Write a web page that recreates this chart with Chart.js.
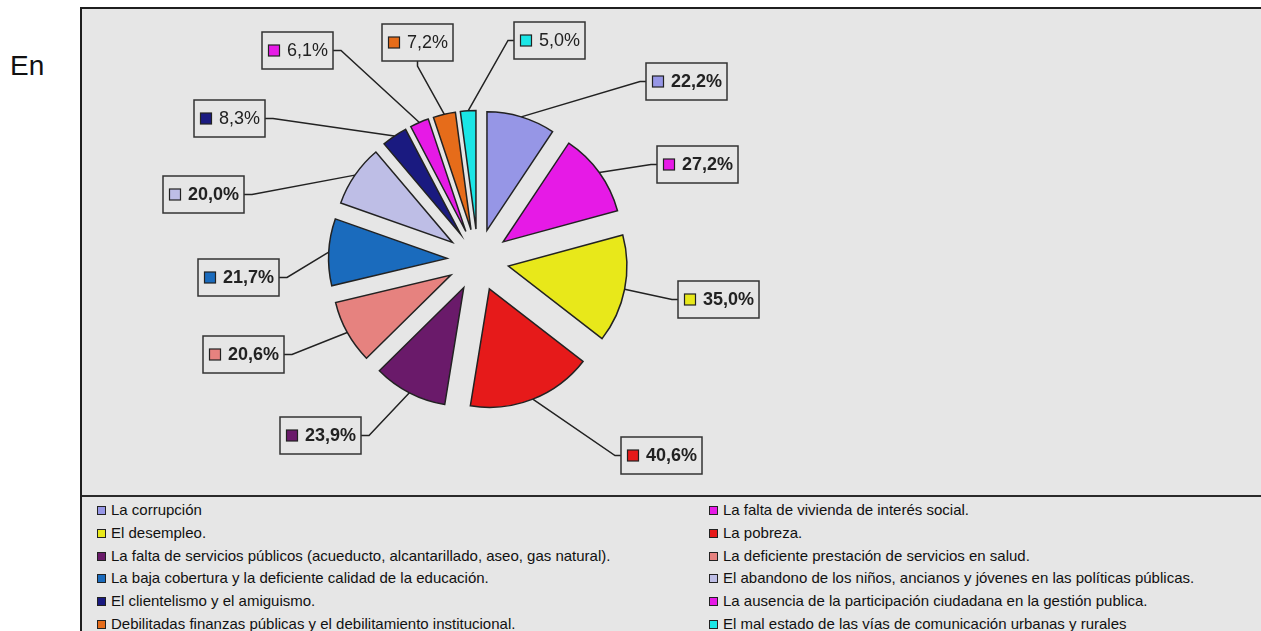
<!DOCTYPE html>
<html>
<head>
<meta charset="utf-8">
<script src="https://cdn.jsdelivr.net/npm/chart.js@4"></script>
<style>
  body { margin: 0; background: #fff; font-family: "Liberation Sans", Arial, sans-serif; }
  #lead { position: absolute; left: 10px; top: 50px; font-size: 28px; color: #111; }
  #box {
    position: absolute; left: 80px; top: 7px; width: 1240px; height: 700px;
    box-sizing: border-box; border: 2px solid #1e1e1e; background: #e6e6e6;
  }
  #pie { display: block; }
  #legend {
    border-top: 2px solid #2a2a2a;
    display: grid; grid-template-columns: 612px auto;
    padding: 2px 0 0 15px;
    font-size: 15px; color: #111; line-height: 22.8px;
  }
  #legend span.sw {
    display: inline-block; width: 7px; height: 7px; border: 1px solid #222;
    margin-right: 5px; vertical-align: 0px;
  }
</style>
</head>
<body>
<div id="lead">En</div>
<div id="box">
  <canvas id="pie" width="1179" height="486"></canvas>
  <div id="legend"></div>
</div>
<script>
// --- DATOS ---
const categories = [
  'La corrupción',
  'La falta de vivienda de interés social.',
  'El desempleo.',
  'La pobreza.',
  'La falta de servicios públicos (acueducto, alcantarillado, aseo, gas natural).',
  'La deficiente prestación de servicios en salud.',
  'La baja cobertura y la deficiente calidad de la educación.',
  'El abandono de los niños, ancianos y jóvenes en las políticas públicas.',
  'El clientelismo y el amiguismo.',
  'La ausencia de la participación ciudadana en la gestión publica.',
  'Debilitadas finanzas públicas y el debilitamiento institucional.',
  'El mal estado de las vías de comunicación urbanas y rurales'
];
const values = [22.2, 27.2, 35.0, 40.6, 23.9, 20.6, 21.7, 20.0, 8.3, 6.1, 7.2, 5.0];
const colors = ['#9696e6', '#e61ae6', '#e8e81a', '#e61a1a', '#6a1a6a', '#e6827f',
                '#1a6bbd', '#bebee6', '#1a1a80', '#e61ae6', '#e66c1a', '#1ae6e6'];

// posicion de las etiquetas (esquina sup. izq. relativa al centro de la torta)
const labelSpots = [[168, -197], [179, -114], [200, 21], [143, 177], [-198, 157], [-275, 76],
                    [-280, -1], [-315, -84], [-284, -160], [-216, -228], [-96, -236], [36, -238]];

const EXPLODE = 31;
const INK = '#222';

// dibuja las porciones separadas del centro
const explodePlugin = {
  id: 'explode',
  beforeDatasetsDraw(chart) {
    const ctx = chart.ctx;
    chart.getDatasetMeta(0).data.forEach(arc => {
      const mid = (arc.startAngle + arc.endAngle) / 2;
      ctx.save();
      ctx.translate(Math.cos(mid) * EXPLODE, Math.sin(mid) * EXPLODE);
      arc.draw(ctx);
      ctx.restore();
    });
    return false;
  }
};

// etiquetas con caja y linea guia
const calloutPlugin = {
  id: 'callouts',
  afterDraw(chart) {
    const ctx = chart.ctx;
    const data = chart.data.datasets[0].data;
    chart.getDatasetMeta(0).data.forEach((arc, i) => {
      const mid = (arc.startAngle + arc.endAngle) / 2;
      const r = EXPLODE + arc.outerRadius;
      const ax = arc.x + Math.cos(mid) * r;
      const ay = arc.y + Math.sin(mid) * r;

      const v = data[i];
      const bold = v >= 10;
      const text = v.toFixed(1).replace('.', ',') + '%';
      ctx.save();
      ctx.font = (bold ? 'bold ' : '') + '18px "Liberation Sans", Arial, sans-serif';
      const tw = ctx.measureText(text).width;
      const bw = Math.round(6 + 11 + 8 + tw + 5);
      const bh = 37;
      const bx = arc.x + labelSpots[i][0];
      const by = arc.y + labelSpots[i][1];

      // linea guia
      let sx, sy, ex, ey;
      if (ax < bx) { ex = bx; ey = by + bh / 2; sx = bx - 6; sy = ey; }
      else if (ax > bx + bw) { ex = bx + bw; ey = by + bh / 2; sx = ex + 8; sy = ey; }
      else { ex = bx + bw / 2; ey = by + bh; sx = ex; sy = ey + 5; }
      ctx.strokeStyle = INK;
      ctx.lineWidth = 1.5;
      ctx.beginPath();
      ctx.moveTo(ax, ay);
      ctx.lineTo(sx, sy);
      ctx.lineTo(ex, ey);
      ctx.stroke();

      // caja
      ctx.fillStyle = '#e6e6e6';
      ctx.fillRect(bx, by, bw, bh);
      ctx.strokeStyle = '#333';
      ctx.strokeRect(bx, by, bw, bh);

      // marcador
      ctx.fillStyle = colors[i];
      ctx.fillRect(bx + 6.5, by + bh / 2 - 5.5, 11, 11);
      ctx.lineWidth = 1.2;
      ctx.strokeStyle = INK;
      ctx.strokeRect(bx + 6.5, by + bh / 2 - 5.5, 11, 11);

      ctx.fillStyle = INK;
      ctx.textBaseline = 'middle';
      ctx.fillText(text, bx + 25, by + bh / 2 + 1);
      ctx.restore();
    });
  }
};

const pieChart = new Chart(document.getElementById('pie'), {
  type: 'pie',
  data: {
    labels: categories,
    datasets: [{
      data: values,
      backgroundColor: colors,
      borderColor: INK,
      borderWidth: 1.5,
      borderJoinStyle: 'miter'
    }]
  },
  options: {
    responsive: false,
    animation: false,
    events: [],
    radius: 118.5,
    layout: { padding: { left: 0, right: 387, top: 16, bottom: 0 } },
    plugins: { legend: { display: false }, tooltip: { enabled: false } }
  },
  plugins: [explodePlugin, calloutPlugin]
});

// leyenda en dos columnas
const legendEl = document.getElementById('legend');
pieChart.data.labels.forEach((label, i) => {
  const item = document.createElement('div');
  item.innerHTML = `<span class="sw" style="background:${colors[i]}"></span>${label}`;
  legendEl.appendChild(item);
});
</script>
</body>
</html>
